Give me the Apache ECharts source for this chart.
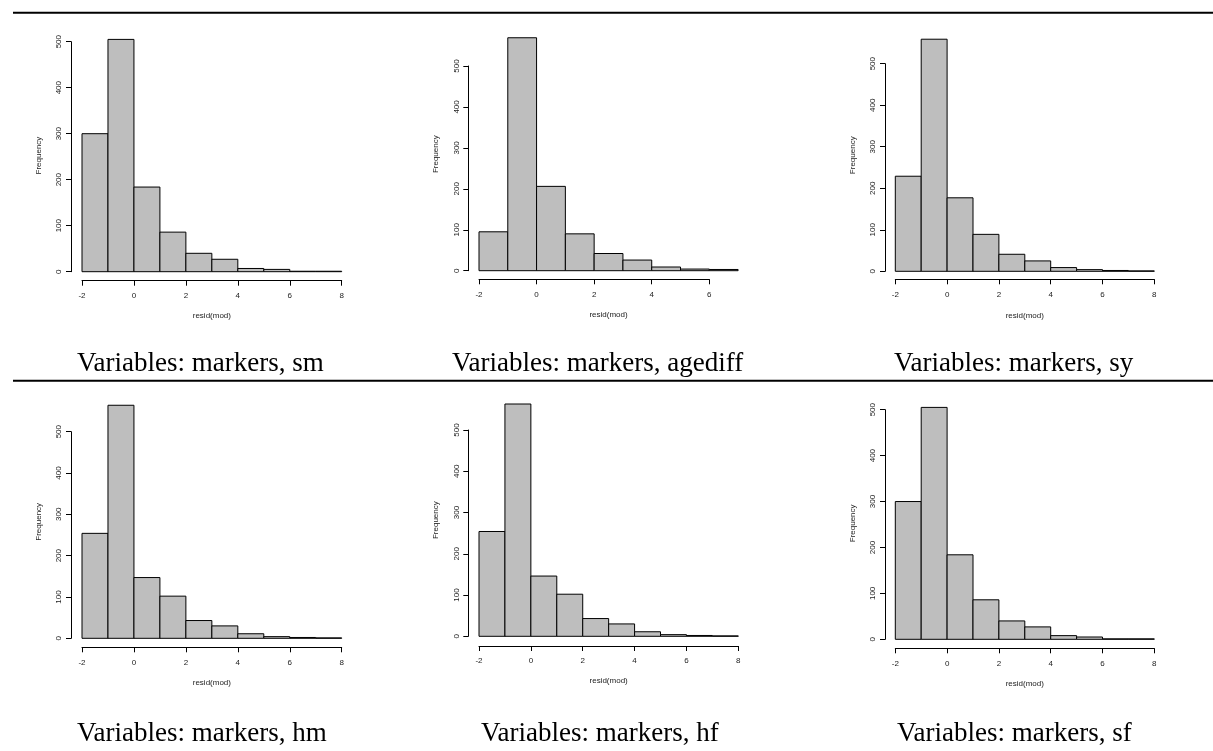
<!DOCTYPE html>
<html>
<head>
<meta charset="utf-8">
<script src="https://cdn.jsdelivr.net/npm/echarts@6/dist/echarts.min.js"></script>
<style>
  html, body { margin: 0; padding: 0; background: #fff; }
  #chart { width: 1213px; height: 751px; }
</style>
</head>
<body>
<div id="chart"></div>
<script>
// ---------------- data ----------------
const breaksMain    = [-2, -1, 0, 1, 2, 3, 4, 5, 6, 7, 8];
const breaksAgediff = [-2, -1, 0, 1, 2, 3, 4, 5, 6, 7];

const countsSm      = [300, 505, 184, 86, 40, 27, 7, 5, 1, 1];
const countsAgediff = [95, 569, 206, 90, 42, 26, 9, 4, 3];
const countsSy      = [229, 559, 177, 89, 41, 25, 9, 4, 2, 1];
const countsHm      = [254, 564, 147, 102, 43, 30, 11, 4, 2, 1];
const countsHf      = [254, 563, 146, 102, 43, 30, 11, 4, 2, 1];
const countsSf      = [300, 505, 184, 86, 40, 27, 8, 5, 1, 1];

const captions = [
  'Variables: markers, sm', 'Variables: markers, agediff', 'Variables: markers, sy',
  'Variables: markers, hm', 'Variables: markers, hf', 'Variables: markers, sf'
];
const yTicks        = [0, 100, 200, 300, 400, 500];
const xTicksMain    = [-2, 0, 2, 4, 6, 8];
const xTicksAgediff = [-2, 0, 2, 4, 6];
const xLabel = 'resid(mod)';
const yLabel = 'Frequency';

// ---------------- layout (pixels) ----------------
const layouts = [
  { left: 82,    right: 341.7,  zeroY: 271.7, y500: 41.7,  xAxisY: 280.7, yAxisX: 71,    capX: 77,  capY: 364 },
  { left: 479,   right: 738.1,  zeroY: 270.7, y500: 66,    xAxisY: 279.3, yAxisX: 468.3, capX: 452, capY: 364 },
  { left: 895.3, right: 1154.3, zeroY: 271.3, y500: 63.7,  xAxisY: 279.3, yAxisX: 885,   capX: 894, capY: 364 },
  { left: 82,    right: 341.7,  zeroY: 638.3, y500: 431.7, xAxisY: 647.3, yAxisX: 71,    capX: 77,  capY: 734 },
  { left: 479,   right: 738.3,  zeroY: 636.3, y500: 430,   xAxisY: 646,   yAxisX: 468.3, capX: 481, capY: 734 },
  { left: 895.3, right: 1154.3, zeroY: 639.3, y500: 409.7, xAxisY: 648.3, yAxisX: 885,   capX: 897, capY: 734 }
];

const panels = [
  { breaks: breaksMain,    counts: countsSm,      xTicks: xTicksMain },
  { breaks: breaksAgediff, counts: countsAgediff, xTicks: xTicksAgediff },
  { breaks: breaksMain,    counts: countsSy,      xTicks: xTicksMain },
  { breaks: breaksMain,    counts: countsHm,      xTicks: xTicksMain },
  { breaks: breaksMain,    counts: countsHf,      xTicks: xTicksMain },
  { breaks: breaksMain,    counts: countsSf,      xTicks: xTicksMain }
];

// ---------------- build option ----------------
const axisFont = 'Liberation Sans';
const grids = [], xAxes = [], yAxes = [], series = [], graphics = [];

function renderItem(params, api) {
  const a = api.coord([api.value(0), api.value(2)]);
  const b = api.coord([api.value(1), 0]);
  return {
    type: 'rect',
    shape: { x: a[0], y: a[1], width: b[0] - a[0], height: b[1] - a[1] },
    style: { fill: '#bebebe', stroke: '#000', lineWidth: 1 }
  };
}

panels.forEach((p, i) => {
  const L = layouts[i];
  const bMin = p.breaks[0], bMax = p.breaks[p.breaks.length - 1];
  const maxCount = Math.max.apply(null, p.counts);
  const pxY = (L.zeroY - L.y500) / yTicks[yTicks.length - 1];
  const pxX = (L.right - L.left) / (bMax - bMin);
  const top1 = L.zeroY - maxCount * pxY;
  const xTickMin = p.xTicks[0], xTickMax = p.xTicks[p.xTicks.length - 1];
  const yTickMin = yTicks[0], yTickMax = yTicks[yTicks.length - 1];

  // grid for bars (data region)
  const g1 = grids.length;
  grids.push({ left: L.left, top: top1, width: L.right - L.left, height: L.zeroY - top1, outerBoundsMode: 'none' });
  xAxes.push({
    gridIndex: g1, type: 'value', min: bMin, max: bMax,
    axisLine: { show: false, onZero: false }, axisTick: { show: false }, axisLabel: { show: false }, splitLine: { show: false },
    name: xLabel, nameLocation: 'middle', nameGap: 40,
    nameTextStyle: { fontFamily: axisFont, fontSize: 8, color: '#222' }
  });
  yAxes.push({
    gridIndex: g1, type: 'value', min: 0, max: maxCount,
    axisLine: { show: false, onZero: false }, axisTick: { show: false }, axisLabel: { show: false }, splitLine: { show: false },
    name: yLabel, nameLocation: 'middle', nameGap: 39, nameRotate: 90,
    nameTextStyle: { fontFamily: axisFont, fontSize: 8, color: '#222' }
  });
  series.push({
    type: 'custom', coordinateSystem: 'cartesian2d', xAxisIndex: g1, yAxisIndex: g1,
    renderItem: renderItem, clip: false,
    encode: { x: [0, 1], y: 2 },
    data: p.counts.map((c, k) => [p.breaks[k], p.breaks[k + 1], c])
  });

  // grid for the detached R-style axes (spanning only the tick range)
  const g2 = grids.length;
  grids.push({
    left: L.left, top: L.zeroY - (yTickMax - yTickMin) * pxY,
    width: (xTickMax - xTickMin) * pxX, height: (yTickMax - yTickMin) * pxY,
    outerBoundsMode: 'none'
  });
  xAxes.push({
    gridIndex: g2, type: 'value', min: xTickMin, max: xTickMax, interval: 2,
    position: 'bottom', offset: L.xAxisY - L.zeroY,
    axisLine: { show: true, onZero: false, lineStyle: { color: '#000', width: 1 } },
    axisTick: { show: true, length: 5, lineStyle: { color: '#000', width: 1 } },
    axisLabel: { show: true, margin: 11, fontFamily: axisFont, fontSize: 8, color: '#222',
                 showMinLabel: true, showMaxLabel: true, hideOverlap: false },
    splitLine: { show: false }
  });
  yAxes.push({
    gridIndex: g2, type: 'value', min: yTickMin, max: yTickMax, interval: 100,
    position: 'left', offset: L.left - L.yAxisX,
    axisLine: { show: true, onZero: false, lineStyle: { color: '#000', width: 1 } },
    axisTick: { show: true, length: 5, lineStyle: { color: '#000', width: 1 } },
    axisLabel: { show: true, rotate: 90, margin: 8, fontFamily: axisFont, fontSize: 8, color: '#222',
                 showMinLabel: true, showMaxLabel: true, hideOverlap: false },
    splitLine: { show: false }
  });

  graphics.push({
    type: 'text', x: L.capX, y: L.capY, silent: true,
    style: { text: captions[i], font: '27px "Liberation Serif"', fill: '#000',
             textAlign: 'left', textVerticalAlign: 'middle' }
  });
});

// horizontal rules of the surrounding document
graphics.push({ type: 'line', silent: true, shape: { x1: 13, y1: 12.7, x2: 1213, y2: 12.7 }, style: { stroke: '#000', lineWidth: 2 } });
graphics.push({ type: 'line', silent: true, shape: { x1: 13, y1: 380.7, x2: 1213, y2: 380.7 }, style: { stroke: '#000', lineWidth: 2 } });

const chart = echarts.init(document.getElementById('chart'), null, { renderer: 'canvas' });
chart.setOption({
  animation: false,
  backgroundColor: '#fff',
  grid: grids,
  xAxis: xAxes,
  yAxis: yAxes,
  series: series,
  graphic: graphics
});
</script>
</body>
</html>
